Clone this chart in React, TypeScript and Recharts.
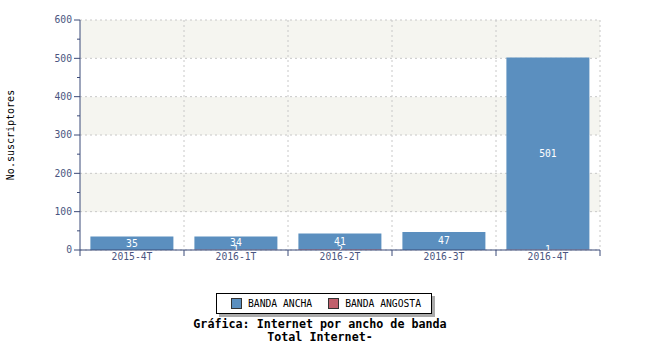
import React from 'react';
import { BarChart, Bar, XAxis, YAxis, CartesianGrid, LabelList, Legend } from 'recharts';

const categories = ['2015-4T', '2016-1T', '2016-2T', '2016-3T', '2016-4T'];
const bandaAncha = [35, 34, 41, 47, 501];
const bandaAngosta = [0, 1, 2, 0, 1];
const yTicks = [0, 50, 100, 150, 200, 250, 300, 350, 400, 450, 500, 550, 600];
const yMajor = [0, 100, 200, 300, 400, 500, 600];
const seriesNames = ['BANDA ANCHA', 'BANDA ANGOSTA'];
const titleLines = ['Gráfica: Internet por ancho de banda', 'Total Internet-'];
const yLabel = 'No.suscriptores';

const W = 650;
const H = 350;
const M = { top: 20, right: 50, left: 0, bottom: 0 };
const YAXIS_W = 80;
const XAXIS_H = 40;
const LEGEND_H = 60;
const PLOT_W = W - M.left - M.right - YAXIS_W;
const PLOT_BOTTOM = H - XAXIS_H - LEGEND_H;
const AXIS_X = M.left + YAXIS_W;

const MONO = '"DejaVu Sans Mono", "Liberation Mono", monospace';
const AXIS_COLOR = '#3b4a78';
const TEXT_COLOR = '#4a5580';
const BLUE = '#5b8fbf';
const RED = '#c0606c';
const seriesColors = [BLUE, RED];

const data = categories.map((c, i) => ({ cat: c, ancha: bandaAncha[i], angosta: bandaAngosta[i] }));

const XTick = (props: any) => {
  const { x, payload, index } = props;
  const half = PLOT_W / categories.length / 2;
  const isLast = index === categories.length - 1;
  return (
    <g>
      <line x1={x - half} x2={x - half} y1={PLOT_BOTTOM} y2={PLOT_BOTTOM + 6} stroke={AXIS_COLOR} />
      {isLast && <line x1={x + half} x2={x + half} y1={PLOT_BOTTOM} y2={PLOT_BOTTOM + 6} stroke={AXIS_COLOR} />}
      <text x={x} y={PLOT_BOTTOM + 10} textAnchor="middle" fill={TEXT_COLOR} fontSize={9.7} fontFamily={MONO}>
        {payload.value}
      </text>
    </g>
  );
};

const YTick = (props: any) => {
  const { y, payload } = props;
  const major = payload.value % 100 === 0;
  const len = major ? 6 : 3;
  return (
    <g>
      <line x1={AXIS_X - len} x2={AXIS_X} y1={y} y2={y} stroke={AXIS_COLOR} />
      {major && (
        <text x={AXIS_X - 8} y={y} dy="0.35em" textAnchor="end" fill={TEXT_COLOR} fontSize={9.7} fontFamily={MONO}>
          {payload.value}
        </text>
      )}
    </g>
  );
};

const makeLabel = (color: string, clip: boolean) => (props: any) => {
  const { x, y, width, height, value, index } = props;
  if (!value) return null;
  const cx = x + width / 2;
  const cy = y + height / 2;
  const id = `clip-lbl-${color.replace('#', '')}-${index}`;
  return (
    <g>
      {clip && (
        <defs>
          <clipPath id={id}>
            <rect x={x - 20} y={0} width={width + 40} height={PLOT_BOTTOM} />
          </clipPath>
        </defs>
      )}
      <text
        x={cx}
        y={cy}
        dy="0.35em"
        textAnchor="middle"
        fill="#ffffff"
        fontSize={9.7}
        fontFamily={MONO}
        clipPath={clip ? `url(#${id})` : undefined}
      >
        {value}
      </text>
    </g>
  );
};

const LegendContent = () => (
  <div style={{ width: W, height: LEGEND_H, position: 'relative', fontFamily: MONO }}>
    <div
      style={{
        position: 'absolute',
        left: 216,
        top: 3,
        width: 214,
        height: 19,
        border: '1px solid #000',
        background: '#fff',
        boxShadow: '3px 3px 0 #aaaaaa',
        display: 'flex',
        alignItems: 'center',
        fontSize: 9.7,
        color: '#000',
      }}
    >
      {seriesNames.map((n, i) => (
        <div key={n} style={{ display: 'flex', alignItems: 'center', marginLeft: i === 0 ? 14 : 16 }}>
          <span
            style={{
              display: 'inline-block',
              width: 9,
              height: 9,
              background: seriesColors[i],
              border: '1px solid #333',
              marginRight: 6,
            }}
          />
          <span>{n}</span>
        </div>
      ))}
    </div>
    <div
      style={{
        position: 'absolute',
        left: 0,
        top: 28,
        width: W - 10,
        textAlign: 'center',
        fontWeight: 'bold',
        fontSize: 11.7,
        lineHeight: '13px',
        color: '#000',
      }}
    >
      {titleLines.map((t) => (
        <div key={t}>{t}</div>
      ))}
    </div>
  </div>
);

export default function App() {
  return (
    <div style={{ position: 'absolute', left: 0, top: 0, width: W, height: H, background: '#fff' }}>
      <BarChart width={W} height={H} data={data} margin={M} barCategoryGap="10%">
        <CartesianGrid
          stroke="#c8c8c8"
          strokeDasharray="2 3"
          horizontalValues={yMajor}
          horizontalFill={['#f5f5f0', '#ffffff']}
          verticalCoordinatesGenerator={({ offset }: any) =>
            categories.map((_, i) => offset.left + (offset.width * (i + 1)) / categories.length)
          }
        />
        <XAxis
          dataKey="cat"
          height={XAXIS_H}
          tickLine={false}
          axisLine={{ stroke: AXIS_COLOR }}
          tick={<XTick />}
          interval={0}
        />
        <YAxis
          width={YAXIS_W}
          domain={[0, 600]}
          ticks={yTicks}
          interval={0}
          tickLine={false}
          axisLine={{ stroke: AXIS_COLOR }}
          tick={<YTick />}
          label={{
            content: (p: any) => {
              const vb = p.viewBox || { x: 0, y: M.top, height: PLOT_BOTTOM - M.top };
              const cx = 10;
              const cy = vb.y + vb.height / 2;
              return (
                <text
                  x={cx}
                  y={cy}
                  transform={`rotate(-90 ${cx} ${cy})`}
                  textAnchor="middle"
                  dy="0.35em"
                  fontSize={10}
                  fontFamily={MONO}
                  fill="#000"
                >
                  {yLabel}
                </text>
              );
            },
          }}
        />
        <Legend verticalAlign="bottom" content={<LegendContent />} wrapperStyle={{ left: 0, bottom: 0, width: W, height: LEGEND_H }} />
        <Bar dataKey="angosta" name={seriesNames[1]} stackId="a" fill={RED} isAnimationActive={false}>
          <LabelList dataKey="angosta" content={makeLabel(RED, true)} />
        </Bar>
        <Bar dataKey="ancha" name={seriesNames[0]} stackId="a" fill={BLUE} isAnimationActive={false}>
          <LabelList dataKey="ancha" content={makeLabel(BLUE, false)} />
        </Bar>
      </BarChart>
    </div>
  );
}
